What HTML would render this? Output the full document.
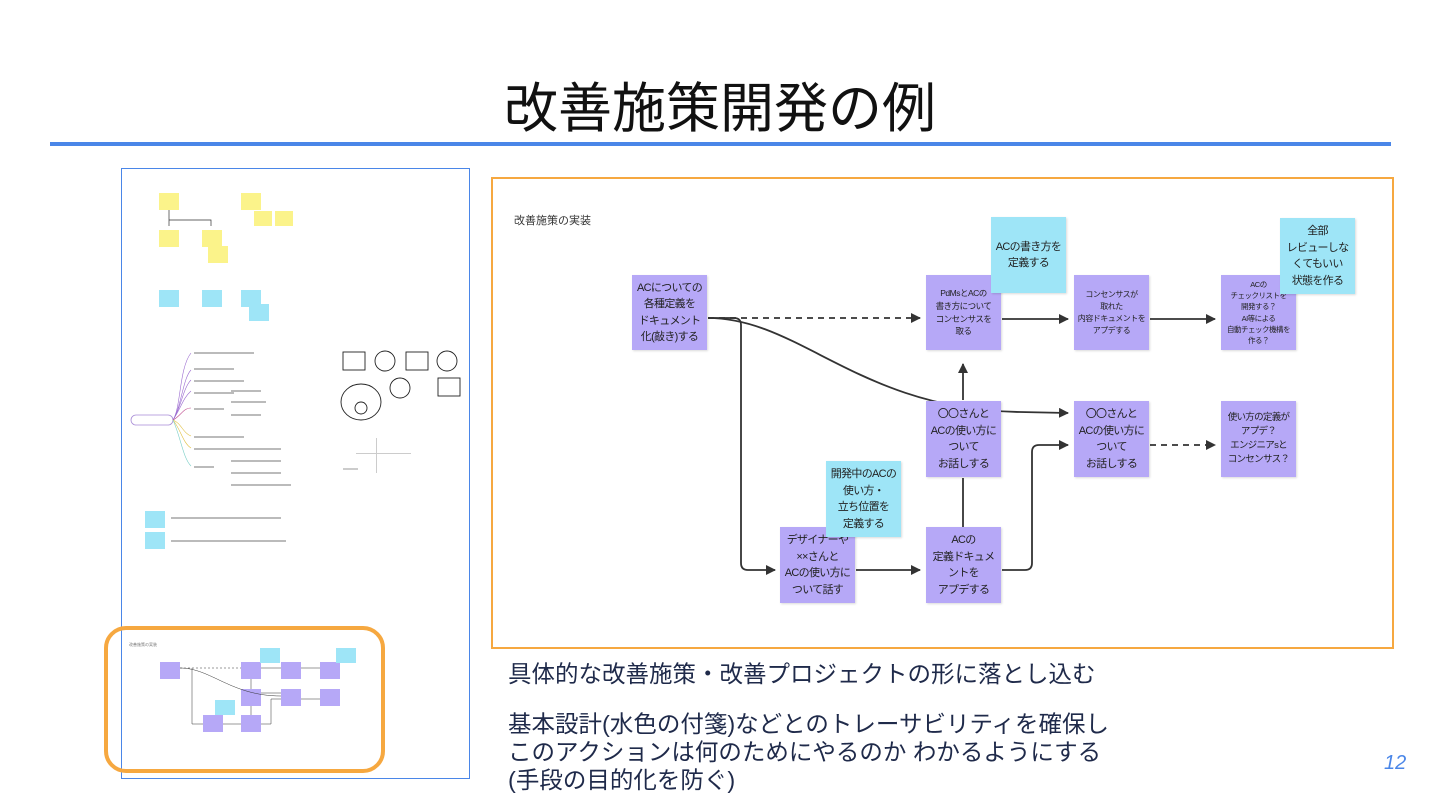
<!DOCTYPE html>
<html><head><meta charset="utf-8"><style>
*{margin:0;padding:0;box-sizing:border-box}
body{width:1440px;height:810px;background:#fff;position:relative;overflow:hidden;font-family:"Liberation Sans","Noto Sans CJK JP",sans-serif}
.abs{position:absolute}
.p,.c{position:absolute;display:flex;align-items:center;justify-content:center;text-align:center;color:#222;font-size:11px;line-height:1.5;letter-spacing:-0.7px;white-space:nowrap;box-shadow:1px 1px 2px rgba(0,0,0,.15)}
.p{background:#b6a8f7}
.c{background:#9ee5f7}
.s{font-size:8.5px;line-height:1.5;letter-spacing:-0.5px}
.t{position:absolute;color:#1f2a4a;font-size:23.5px;white-space:nowrap}
</style></head><body>
<div class="abs" style="left:0;top:76px;width:1440px;text-align:center;font-size:54px;color:#111;line-height:66px">改善施策開発の例</div>
<div class="abs" style="left:50px;top:142px;width:1341px;height:4px;background:#4a86e8"></div>

<!-- thumbnail -->
<div class="abs" style="left:121px;top:168px;width:349px;height:611px;border:1.5px solid #4a86e8;background:#fff"></div>
<svg class="abs" style="left:121px;top:168px" width="349" height="611">
<g fill="#fbf38a">
<rect x="38" y="25" width="20" height="17"/><rect x="38" y="62" width="20" height="17"/><rect x="81" y="62" width="20" height="17"/><rect x="87" y="78" width="20" height="17"/>
<rect x="120" y="25" width="20" height="17"/><rect x="133" y="43" width="18" height="15"/><rect x="154" y="43" width="18" height="15"/>
</g>
<path d="M48 42V58M48 52H90V58" stroke="#333" fill="none" stroke-width=".7"/>
<g fill="#9ee5f7"><rect x="38" y="122" width="20" height="17"/><rect x="81" y="122" width="20" height="17"/><rect x="120" y="122" width="20" height="17"/><rect x="128" y="136" width="20" height="17"/>
<rect x="24" y="343" width="20" height="17"/><rect x="24" y="364" width="20" height="17"/></g>
<rect x="10" y="247" width="42" height="10" rx="5" fill="none" stroke="#a78bd6" stroke-width=".8"/>
<g stroke-width=".6" fill="none">
<path d="M52 252C60 240 58 200 70 185" stroke="#9b6bd0"/><path d="M52 252C60 240 62 210 70 202" stroke="#9b6bd0"/><path d="M52 252C60 240 62 220 70 212" stroke="#9b6bd0"/><path d="M52 252C60 240 62 230 70 223" stroke="#9b6bd0"/><path d="M52 252C60 248 62 240 70 240" stroke="#c05090"/>
<path d="M52 252C60 255 62 265 70 268" stroke="#e0c040"/><path d="M52 252C60 262 62 275 70 280" stroke="#e0c040"/><path d="M52 252C60 270 62 290 70 298" stroke="#7cd0c8"/>
</g>
<g fill="#bbb"><rect x="73" y="184" width="60" height="2"/><rect x="73" y="200" width="40" height="2"/><rect x="73" y="212" width="50" height="2"/><rect x="73" y="224" width="40" height="2"/><rect x="73" y="240" width="30" height="2"/><rect x="73" y="268" width="50" height="2"/><rect x="73" y="280" width="55" height="2"/><rect x="73" y="298" width="20" height="2"/>
<rect x="110" y="222" width="30" height="2"/><rect x="110" y="233" width="35" height="2"/><rect x="110" y="246" width="30" height="2"/><rect x="110" y="280" width="50" height="2"/><rect x="110" y="292" width="50" height="2"/><rect x="110" y="304" width="50" height="2"/><rect x="110" y="316" width="60" height="2"/>
<rect x="50" y="349" width="110" height="2"/><rect x="50" y="372" width="115" height="2"/></g>
<g stroke="#222" fill="none" stroke-width=".9"><rect x="222" y="184" width="22" height="18"/><circle cx="264" cy="193" r="10"/><rect x="285" y="184" width="22" height="18"/><circle cx="326" cy="193" r="10"/><rect x="317" y="210" width="22" height="18"/><circle cx="279" cy="220" r="10"/><ellipse cx="240" cy="234" rx="20" ry="18"/><circle cx="240" cy="240" r="6"/></g>
<g fill="#ccc"><rect x="235" y="285" width="55" height="1"/><rect x="255" y="270" width="1" height="35"/><rect x="222" y="300" width="15" height="2"/></g>
<text x="8" y="478" font-size="4" fill="#777">改善施策の実装</text>
<g fill="#b6a8f7"><rect x="39" y="494" width="20" height="17"/><rect x="120" y="494" width="20" height="17"/><rect x="160" y="494" width="20" height="17"/><rect x="199" y="494" width="20" height="17"/><rect x="120" y="521" width="20" height="17"/><rect x="160" y="521" width="20" height="17"/><rect x="199" y="521" width="20" height="17"/><rect x="82" y="547" width="20" height="17"/><rect x="120" y="547" width="20" height="17"/></g>
<g fill="#9ee5f7"><rect x="139" y="480" width="20" height="15"/><rect x="215" y="480" width="20" height="15"/><rect x="94" y="532" width="20" height="15"/></g>
<g stroke="#333" stroke-width=".5" fill="none"><path d="M59 500H120" stroke-dasharray="2 2"/><path d="M140 500H160M180 500H199M140 525H160M59 500C90 500 110 528 160 528M180 531H199" /><path d="M71 500V556H82M102 556H120M140 556H150V531H160M130 547V538M130 521V511"/></g>
</svg>
<div class="abs" style="left:104px;top:626px;width:281px;height:147px;border:4px solid #f6a840;border-radius:22px"></div>

<!-- main diagram -->
<div class="abs" style="left:491px;top:177px;width:903px;height:472px;border:2px solid #f6a840"></div>
<div class="abs" style="left:514px;top:212px;font-size:11px;color:#333">改善施策の実装</div>
<svg class="abs" style="left:0;top:0" width="1440" height="810">
<defs><marker id="a" markerWidth="10" markerHeight="10" refX="9" refY="5" orient="auto" markerUnits="userSpaceOnUse"><path d="M0 0L10 5L0 10z" fill="#333"/></marker></defs>
<g stroke="#333" stroke-width="1.8" fill="none">
<path d="M708 318H920" stroke-dasharray="6 5" marker-end="url(#a)"/>
<path d="M708 318C800 318 860 410 1020 412L1068 413" marker-end="url(#a)"/>
<path d="M708 318H734Q741 318 741 325V563Q741 570 748 570H775" marker-end="url(#a)"/>
<path d="M856 570H920" marker-end="url(#a)"/>
<path d="M1002 570H1025Q1032 570 1032 563V452Q1032 445 1039 445H1068" marker-end="url(#a)"/>
<path d="M963 527V478"/>
<path d="M963 400V364" marker-end="url(#a)"/>
<path d="M1002 319H1068" marker-end="url(#a)"/>
<path d="M1150 319H1215" marker-end="url(#a)"/>
<path d="M1150 445H1215" stroke-dasharray="6 5" marker-end="url(#a)"/>
</g></svg>
<div class="p" style="left:632px;top:275px;width:75px;height:75px">ACについての<br>各種定義を<br>ドキュメント<br>化(敲き)する</div>
<div class="p s" style="left:926px;top:275px;width:75px;height:75px">PdMsとACの<br>書き方について<br>コンセンサスを<br>取る</div>
<div class="c" style="left:991px;top:217px;width:75px;height:76px">ACの書き方を<br>定義する</div>
<div class="p s" style="left:1074px;top:275px;width:75px;height:75px;font-size:8px">コンセンサスが<br>取れた<br>内容ドキュメントを<br>アプデする</div>
<div class="p s" style="left:1221px;top:275px;width:75px;height:75px;font-size:7.5px">ACの<br>チェックリストを<br>開発する？<br>AI等による<br>自動チェック機構を<br>作る？</div>
<div class="c" style="left:1280px;top:218px;width:75px;height:76px">全部<br>レビューしな<br>くてもいい<br>状態を作る</div>
<div class="p" style="left:926px;top:401px;width:75px;height:76px">〇〇さんと<br>ACの使い方に<br>ついて<br>お話しする</div>
<div class="p" style="left:1074px;top:401px;width:75px;height:76px">〇〇さんと<br>ACの使い方に<br>ついて<br>お話しする</div>
<div class="p" style="left:1221px;top:401px;width:75px;height:76px;font-size:9.5px">使い方の定義が<br>アプデ？<br>エンジニアsと<br>コンセンサス？</div>
<div class="p" style="left:780px;top:527px;width:75px;height:76px">デザイナーや<br>××さんと<br>ACの使い方に<br>ついて話す</div>
<div class="c" style="left:826px;top:461px;width:75px;height:76px">開発中のACの<br>使い方・<br>立ち位置を<br>定義する</div>
<div class="p" style="left:926px;top:527px;width:75px;height:76px">ACの<br>定義ドキュメ<br>ントを<br>アプデする</div>

<div class="t" style="left:508px;top:655px">具体的な改善施策・改善プロジェクトの形に落とし込む</div>
<div class="t" style="left:508px;top:705px">基本設計(水色の付箋)などとのトレーサビリティを確保し</div>
<div class="t" style="left:508px;top:733px">このアクションは何のためにやるのか わかるようにする</div>
<div class="t" style="left:508px;top:761px">(手段の目的化を防ぐ)</div>
<div class="abs" style="left:1384px;top:752px;font-size:20px;font-style:italic;color:#4a86e8">12</div>
</body></html>
